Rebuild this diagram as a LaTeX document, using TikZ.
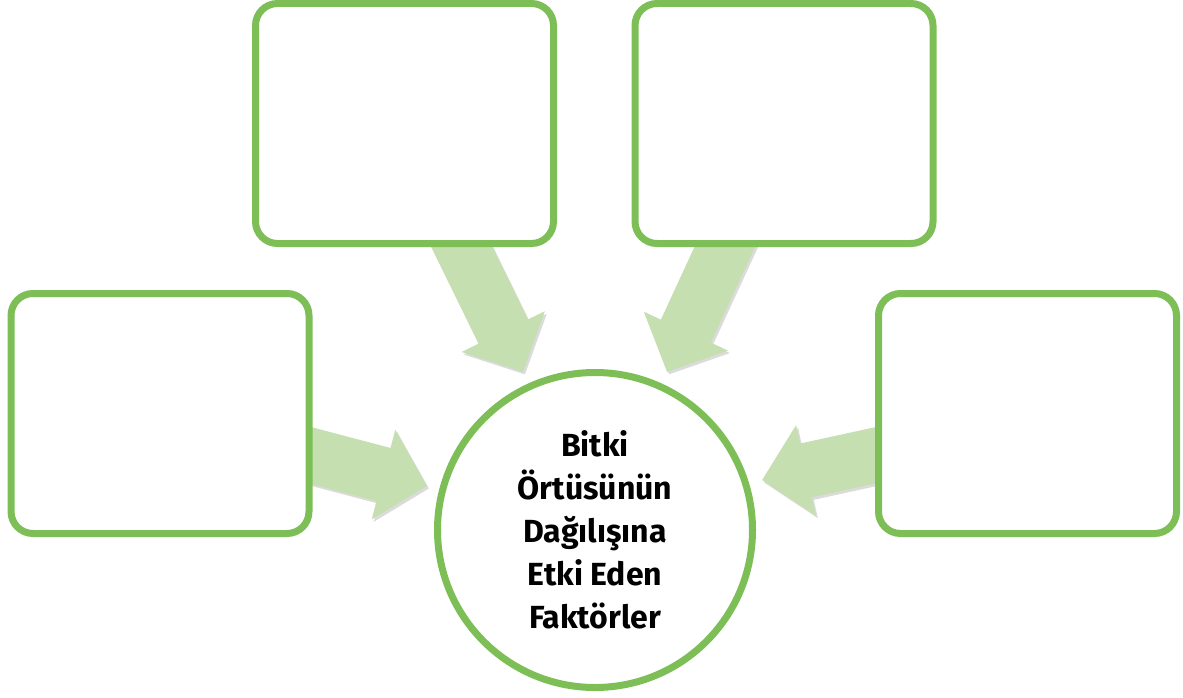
\documentclass[tikz,border=0pt]{standalone}
\usepackage{fontspec}
\setmainfont{Fira Sans}
\usetikzlibrary{arrows.meta,shadows}
\definecolor{boxgreen}{RGB}{125,190,87}
\definecolor{arrowgreen}{RGB}{197,223,176}
\tikzset{
  factorbox/.style={draw=boxgreen, line width=7pt, fill=white, rounded corners=22pt,
    minimum width=298pt, minimum height=240pt,
    drop shadow={shadow xshift=2pt, shadow yshift=-2.5pt, opacity=0.2, fill=black}},
  hub/.style={circle, draw=boxgreen, line width=7pt, fill=white, minimum size=315pt,
    align=center, font=\fontsize{32}{43}\selectfont\bfseries,
    drop shadow={shadow xshift=2pt, shadow yshift=-2.5pt, opacity=0.2, fill=black}},
  flowarrow/.style={draw=arrowgreen, line width=55pt, line cap=butt,
    -{Triangle[length=45pt,width=90pt]}},
  flowshadow/.style={flowarrow, draw=black!14, transform canvas={shift={(2pt,-2.5pt)}}},
}
\newcommand{\flow}[2]{
  \draw[flowshadow] (#1) -- (#2);
  \draw[flowarrow] (#1) -- (#2);
}

\begin{document}
\begin{tikzpicture}[x=1pt,y=-1pt]
  \useasboundingbox (0,0) rectangle (1183,698);
  % arrows first, boxes on top
  \coordinate (tlfrom) at (453,229);  \coordinate (tlto) at (523,372);
  \coordinate (trfrom) at (733,229);  \coordinate (trto) at (667,372);
  \coordinate (lfrom)  at (294,451);  \coordinate (lto)  at (427,486);
  \coordinate (rfrom)  at (895,451);  \coordinate (rto)  at (762,480);
  \flow{tlfrom}{tlto}
  \flow{trfrom}{trto}
  \flow{lfrom}{lto}
  \flow{rfrom}{rto}
  \node[factorbox] (topleft)  at (404.5,123.5) {};
  \node[factorbox] (topright) at (784,123.5) {};
  \node[factorbox] (left)     at (160,413.5) {};
  \node[factorbox] (right)    at (1027.5,413.5) {};
  \node[hub] (factors) at (595,530)
    {Bitki\\Örtüsünün\\Dağılışına\\Etki Eden\\Faktörler};
\end{tikzpicture}
\end{document}
